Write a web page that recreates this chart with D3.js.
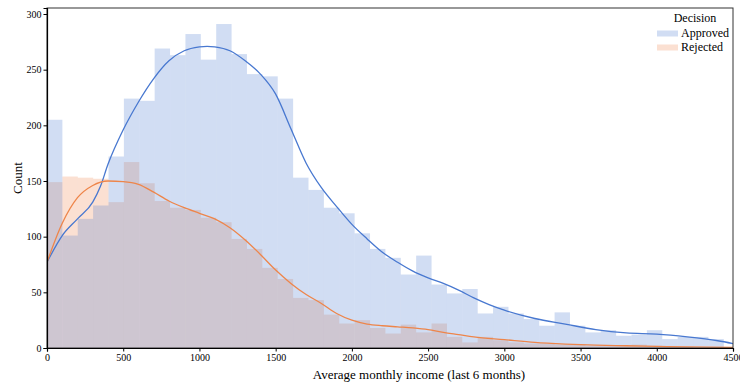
<!DOCTYPE html>
<html>
<head>
<meta charset="utf-8">
<script src="https://cdn.jsdelivr.net/npm/d3@7"></script>
<style>
  body { margin: 0; background: #fff; }
  svg text { font-family: "Liberation Serif", "Times New Roman", serif; fill: #000; }
</style>
</head>
<body>
<svg id="chart" width="740" height="383"></svg>
<script>
// histogram bins: 44 bins from 0 to ~4440
var binStart = 0,
    binWidth = 100.9;

var approvedCounts = [205, 101, 116, 128, 172, 224, 222, 269, 263, 282, 259, 291, 264, 246, 244, 224,
    153, 142, 126, 121, 103, 89, 81, 66, 83, 57, 49, 53, 31, 37, 31, 26, 20, 32, 20, 14,
    16, 11, 12, 16, 8, 10, 10, 8];

var rejectedCounts = [149, 154, 153, 152, 131, 167, 148, 132, 126, 124, 117, 113, 98, 89, 72, 62,
    45, 43, 30, 22, 25, 18, 13, 21, 14, 22, 10, 5, 10, 7, 5, 4, 4, 3, 3, 2,
    2, 2, 3, 2, 1, 1, 0, 0];

// kde curves (income, count)
var approvedKdeX = [0, 100, 200, 300, 350, 400, 500, 600, 700, 800, 900, 1000, 1050, 1100, 1200, 1300,
    1400, 1500, 1600, 1700, 1800, 1900, 2000, 2100, 2200, 2300, 2400, 2500, 2600, 2700, 2800,
    2900, 3000, 3200, 3400, 3600, 3800, 4000, 4200, 4400, 4500];
var approvedKdeY = [77, 101, 116, 131, 145, 165, 196, 221, 242, 258, 267, 270.5, 271, 270.5, 267, 258,
    246, 228, 197, 166, 144, 127, 111, 98, 86, 77, 69, 63, 58, 52, 45,
    39, 34, 26.5, 21.5, 16.5, 13.5, 12.5, 10, 6.5, 4];

var rejectedKdeX = [0, 100, 200, 300, 400, 500, 600, 700, 800, 900, 1000, 1100, 1200, 1300, 1400, 1500,
    1600, 1700, 1800, 1900, 2000, 2100, 2200, 2300, 2400, 2500, 2600, 2700, 2800, 3000, 3200,
    3400, 3600, 3800, 4000, 4200, 4500];
var rejectedKdeY = [77, 112, 135, 146, 150, 149.5, 147, 140, 132, 126, 121, 116, 108, 97, 84, 70,
    58, 48, 40, 31, 25, 21.5, 20, 19, 18, 16.5, 14, 12, 10, 7.5, 5,
    3.5, 2.5, 2, 1.5, 1, 0.5];

var xTicks = [0, 500, 1000, 1500, 2000, 2500, 3000, 3500, 4000, 4500];
var yTicks = [0, 50, 100, 150, 200, 250, 300];

var seriesNames = ["Approved", "Rejected"];
var colors = {Approved: "#4878d0", Rejected: "#ee854a"};

var margin = {top: 8, right: 7, bottom: 35, left: 47},
    width = 740 - margin.left - margin.right,
    height = 383 - margin.top - margin.bottom;

var x = d3.scaleLinear().domain([0, 4500]).range([0, width]);
var y = d3.scaleLinear().domain([0, 305.4]).range([height, 0]);

var svg = d3.select("#chart")
    .append("g")
    .attr("transform", "translate(" + margin.left + "," + margin.top + ")");

svg.append("clipPath").attr("id", "clip")
    .append("rect").attr("width", width).attr("height", height);

function bins(counts) {
    return counts.map(function(c, i) {
        return {x0: binStart + i * binWidth, x1: binStart + (i + 1) * binWidth, count: c};
    });
}

// rejected first, approved layered on top
[["Rejected", rejectedCounts], ["Approved", approvedCounts]].forEach(function(s) {
    svg.append("g")
        .selectAll("rect")
        .data(bins(s[1]))
        .enter().append("rect")
        .attr("x", function(d) { return x(d.x0); })
        .attr("width", function(d) { return x(d.x1) - x(d.x0); })
        .attr("y", function(d) { return y(d.count); })
        .attr("height", function(d) { return height - y(d.count); })
        .style("fill", colors[s[0]])
        .style("fill-opacity", 0.25);
});

var line = d3.line()
    .x(function(d) { return x(d[0]); })
    .y(function(d) { return y(d[1]); })
    .curve(d3.curveMonotoneX);

[["Approved", approvedKdeX, approvedKdeY], ["Rejected", rejectedKdeX, rejectedKdeY]].forEach(function(s) {
    svg.append("path")
        .datum(d3.zip(s[1], s[2]))
        .attr("clip-path", "url(#clip)")
        .attr("d", line)
        .style("fill", "none")
        .style("stroke", colors[s[0]])
        .style("stroke-width", 1.3);
});

// frame
svg.append("rect")
    .attr("width", width)
    .attr("height", height)
    .style("fill", "none")
    .style("stroke", "#333")
    .style("stroke-width", 1);

var xAxis = svg.append("g")
    .attr("transform", "translate(0," + height + ")")
    .call(d3.axisBottom(x).tickValues(xTicks).tickFormat(d3.format("d")).tickSize(3.5).tickPadding(2));
var yAxis = svg.append("g")
    .call(d3.axisLeft(y).tickValues(yTicks).tickFormat(d3.format("d")).tickSize(3.5).tickPadding(2));

[xAxis, yAxis].forEach(function(a) {
    a.attr("font-family", null);
    a.selectAll("text").style("font-size", "10px");
    a.selectAll("line").style("stroke", "#000");
    a.select(".domain").style("stroke", "#000").style("stroke-width", 1.2);
});

svg.append("text")
    .attr("x", 372)
    .attr("y", height + 31)
    .attr("text-anchor", "middle")
    .style("font-size", "13px")
    .text("Average monthly income (last 6 months)");

svg.append("text")
    .attr("transform", "rotate(-90)")
    .attr("x", -height / 2)
    .attr("y", -25.5)
    .attr("text-anchor", "middle")
    .style("font-size", "13px")
    .text("Count");

// legend
var legend = svg.append("g").attr("transform", "translate(" + (width - 76) + ",0)");
legend.append("text")
    .attr("x", 38)
    .attr("y", 14)
    .attr("text-anchor", "middle")
    .style("font-size", "12px")
    .text("Decision");

seriesNames.forEach(function(name, i) {
    legend.append("rect")
        .attr("x", 0)
        .attr("y", 22.5 + i * 14)
        .attr("width", 21)
        .attr("height", 6)
        .style("fill", colors[name])
        .style("fill-opacity", 0.25);
    legend.append("text")
        .attr("x", 24)
        .attr("y", 29 + i * 14)
        .style("font-size", "12px")
        .text(name);
});
</script>
</body>
</html>
